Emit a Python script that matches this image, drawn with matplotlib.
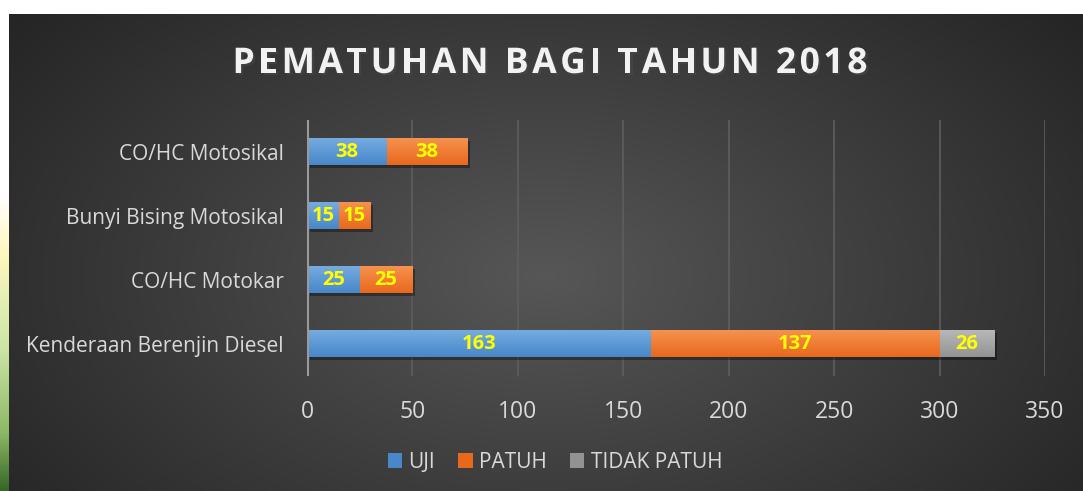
import matplotlib
matplotlib.use('Agg')
import matplotlib.pyplot as plt
import matplotlib.patheffects as pe
from matplotlib.patches import Patch
import numpy as np

# data
categories = ['Kenderaan Berenjin Diesel', 'CO/HC Motokar', 'Bunyi Bising Motosikal', 'CO/HC Motosikal']
uji = [163, 25, 15, 38]
patuh = [137, 25, 15, 38]
tidak_patuh = [26, 0, 0, 0]
series_names = ['UJI', 'PATUH', 'TIDAK PATUH']
x_ticks = [0, 50, 100, 150, 200, 250, 300, 350]
title = 'PEMATUHAN BAGI TAHUN 2018'

colors = [('#75abe0', '#4787ca'), ('#f6914f', '#e8691c'), ('#b8b8b8', '#939393')]
FONT = ['Open Sans', 'DejaVu Sans']
plt.rcParams['font.family'] = FONT

W, H = 1083, 491
fig = plt.figure(figsize=(W / 100, H / 100), dpi=100)
fig.patch.set_facecolor('white')

# left strip (picture behind the chart)
strip = fig.add_axes([0, 0, 9 / W, 1 - 14 / H])
sv = np.linspace(0, 1, 200)
stops = [0, 0.12, 0.3, 0.5, 0.62, 1]
strip_img = np.zeros((200, 1, 3))
strip_img[:, 0, 0] = np.interp(sv, stops, [0.22, 0.55, 0.80, 1.0, 1.0, 1.0])
strip_img[:, 0, 1] = np.interp(sv, stops, [0.40, 0.72, 0.90, 0.97, 1.0, 1.0])
strip_img[:, 0, 2] = np.interp(sv, stops, [0.15, 0.40, 0.65, 0.75, 1.0, 1.0])
strip.imshow(strip_img, aspect='auto', origin='lower', extent=[0, 1, 0, 1])
strip.set_axis_off()

# dark radial background
bg = fig.add_axes([9 / W, 0, 1 - 9 / W, 1 - 14 / H])
yy, xx = np.mgrid[0:1:300j, 0:1:600j]
r = np.sqrt(((xx - 0.5) / 0.62) ** 2 + ((yy - 0.45) / 0.85) ** 2)
shade = np.clip(0.34 - 0.19 * r, 0.14, 0.34)
bg.imshow(np.dstack([shade] * 3), aspect='auto', origin='lower', extent=[0, 1, 0, 1])
bg.set_axis_off()

x0, x1 = 307 / W, 1045 / W
y_bot, y_top = 1 - 376 / H, 1 - 120 / H
ax = fig.add_axes([x0, y_bot, x1 - x0, y_top - y_bot])
ax.patch.set_alpha(0)
ax.set_xlim(0, 350)
ax.set_ylim(-0.5, len(categories) - 0.5)

ypos = np.arange(len(categories))
h = 0.42
lefts = np.zeros(len(categories))
for vals, (c_top, c_bot) in zip([uji, patuh, tidak_patuh], colors):
    bars = ax.barh(ypos, vals, height=h, left=lefts, color=c_bot, zorder=3)
    grad = np.linspace(0, 1, 50)[:, None]
    ct = np.array(matplotlib.colors.to_rgb(c_top))
    cb = np.array(matplotlib.colors.to_rgb(c_bot))
    img = (cb[None, None, :] * (1 - grad[..., None]) + ct[None, None, :] * grad[..., None])
    for b, v in zip(bars, vals):
        if v <= 0:
            b.set_visible(False)
            continue
        bx, by, bw, bh = b.get_x(), b.get_y(), b.get_width(), b.get_height()
        # shadow
        ax.add_patch(plt.Rectangle((bx + 1.2, by - 0.04), bw, bh, color='black', alpha=0.35,
                                   zorder=2, lw=0))
        ax.imshow(img, extent=[bx, bx + bw, by, by + bh], aspect='auto', origin='lower', zorder=3.5)
        ax.text(bx + bw / 2, by + bh / 2, str(v), ha='center', va='center', color='#ffff00',
                fontsize=14.5, fontweight='bold', zorder=5)
    lefts = lefts + np.array(vals)

ax.set_xlim(0, 350)
ax.set_ylim(-0.5, len(categories) - 0.5)
ax.set_xticks(x_ticks)
ax.set_xticklabels([str(t) for t in x_ticks])
ax.set_yticks(ypos)
ax.set_yticklabels(categories)
ax.tick_params(axis='x', length=0, colors='#d9d9d9', labelsize=16.5, pad=17)
ax.tick_params(axis='y', length=0, colors='#d9d9d9', labelsize=15, pad=17)
ax.grid(axis='x', color='#5e5e5e', lw=1.2, zorder=0)
for s in ax.spines.values():
    s.set_visible(False)
ax.axvline(0, color='#9a9a9a', lw=2.2, zorder=4)

# title, placed letter by letter to get the wide tracking
renderer = fig.canvas.get_renderer()
t_size = 25.5
track = 3.6  # extra px between letters
widths = []
for ch in title:
    t = fig.text(0, 0, ch if ch != ' ' else 'n', fontsize=t_size, fontweight='bold')
    widths.append(t.get_window_extent(renderer).width * (0.4 if ch == ' ' else 1))
    t.remove()
total = sum(widths) + track * (len(title) - 1)
x = 550 - total / 2
for ch, w in zip(title, widths):
    if ch != ' ':
        fig.text(x / W, 1 - 64 / H, ch, ha='left', va='center', color='#f2f2f2',
                 fontsize=t_size, fontweight='bold',
                 path_effects=[pe.withSimplePatchShadow(offset=(1.5, -1.5), alpha=0.6)])
    x += w + track

handles = [Patch(facecolor=c[1]) for c in colors]
leg = fig.legend(handles, series_names, loc='center', bbox_to_anchor=(555 / W, 1 - 462 / H),
                 ncol=3, frameon=False, fontsize=15, labelcolor='#d9d9d9',
                 handlelength=0.7, handleheight=0.7, handletextpad=0.3, columnspacing=1.1)

fig.savefig('out.png', dpi=100)
